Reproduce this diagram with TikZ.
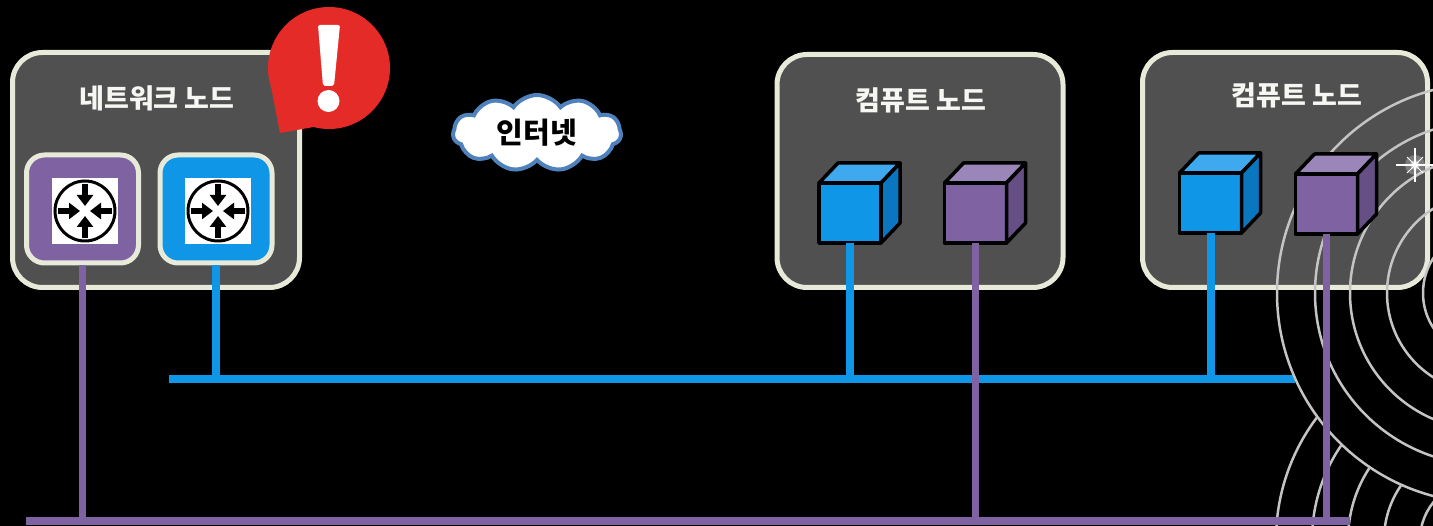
\documentclass[tikz,border=0pt]{standalone}
\usepackage{fontspec}
\newfontfamily\kr{Noto Sans CJK KR}
\usetikzlibrary{shapes.symbols,arrows.meta}

\definecolor{boxgrey}{HTML}{505050}
\definecolor{boxedge}{HTML}{E8EAD9}
\definecolor{titlewhite}{HTML}{F6F6F2}
\definecolor{netblue}{HTML}{0F96E6}
\definecolor{bluetop}{HTML}{3FA9F0}
\definecolor{blueside}{HTML}{0A76BF}
\definecolor{netpurple}{HTML}{7E62A1}
\definecolor{purpletop}{HTML}{9B86B9}
\definecolor{purpleside}{HTML}{664F85}
\definecolor{alertred}{HTML}{E52B28}
\definecolor{cloudedge}{HTML}{4F81BD}
\definecolor{ringgrey}{HTML}{C4C4C4}

\begin{document}
\begin{tikzpicture}[x=1pt,y=-1pt]
        \tikzstyle{nodebox}=[rectangle,rounded corners=30pt,draw=boxedge,line width=5pt,fill=boxgrey,inner sep=0pt]
        \tikzstyle{routerbox}=[rectangle,rounded corners=18pt,draw=boxedge,line width=5pt,minimum width=112pt,minimum height=108pt]
        \tikzstyle{icon}=[rectangle,fill=white,minimum size=66pt,inner sep=0pt]
        \tikzstyle{cubefront}=[rectangle,draw=black,line width=3.5pt,line join=round,minimum width=62pt,minimum height=60pt,inner sep=0pt,outer sep=0pt]
        \tikzstyle{cubeedge}=[draw=black,line width=3.5pt,line join=round]
        \tikzstyle{boxtitle}=[text=titlewhite,font=\kr\bfseries\fontsize{27}{32}\selectfont]
        \tikzstyle{blueline}=[draw=netblue,line width=8pt]
        \tikzstyle{purpleline}=[draw=netpurple,line width=7.5pt]
        \tikzstyle{ring}=[draw=ringgrey,line width=2.5pt]
        \tikzstyle{arrowin}=[line width=6pt,-{Triangle[length=11pt,width=16pt]}]

        \fill[black] (0,0) rectangle (1433,526);
        \useasboundingbox (0,0) rectangle (1433,526);

        \coordinate (blw) at (169,379);
        \coordinate (ble) at (1295,379);
        \coordinate (plw) at (26,521);
        \coordinate (ple) at (1350,521);

        \draw[blueline] (blw) -- (ble);

        % rings in the lower right corner
        \begin{scope}
          \clip (0,0) rectangle (1433,526);
          \foreach \r in {60,96,132,168,204}
            \draw[ring] (1480,540) circle (\r pt);
          \fill[black] (1487,293) circle (211pt);
        \end{scope}

        \node[nodebox,minimum width=287pt,minimum height=235pt] (net) at (156,170) {};
        \node[nodebox,minimum width=286pt,minimum height=233pt] (comp1) at (920,171) {};
        \node[nodebox,minimum width=285pt,minimum height=235pt] (comp2) at (1285,170) {};

        \begin{scope}
          \clip (0,0) rectangle (1433,526);
          \foreach \r in {64,100,137,172,210}
            \draw[ring] (1487,293) circle (\r pt);
        \end{scope}

        % sparkle
        \fill[white,opacity=.25] (1415,165) circle (10pt);
        \fill[white,opacity=.4] (1415,165) circle (5pt);
        \draw[white,line width=1.2pt] (1396,165) -- (1433,165);
        \draw[white,line width=1.2pt] (1415,148) -- (1415,182);
        \draw[white,line width=.8pt] (1407,157) -- (1423,173);
        \draw[white,line width=.8pt] (1407,173) -- (1423,157);
        \fill[white] (1415,165) circle (3pt);

        % routers
        \node[routerbox,fill=netpurple] (rtp) at (82.5,209) {};
        \node[routerbox,fill=netblue] (rtb) at (216,209) {};
        \node[icon] (iconp) at (85,211) {};
        \node[icon] (iconb) at (218,211) {};
        \foreach \i in {iconp,iconb} {
          \draw[black,line width=3pt] (\i.center) circle (30pt);
          \foreach \a in {0,90,180,270}
            \draw[arrowin] (\i.center) ++(\a:27pt) -- ++(\a+180:22pt);
        }

        % cubes
        \node[cubefront,fill=netblue] (cb1) at (850,213) {};
        \node[cubefront,fill=netpurple] (cp1) at (975.5,213) {};
        \node[cubefront,fill=netblue] (cb2) at (1210.5,203) {};
        \node[cubefront,fill=netpurple] (cp2) at (1326.5,204) {};
        \foreach \c/\tp/\sd in {cb1/bluetop/blueside,cp1/purpletop/purpleside,cb2/bluetop/blueside,cp2/purpletop/purpleside} {
          \draw[cubeedge,fill=\tp] (\c.north west) -- ++(19,-20) -- ([shift={(19,-20)}]\c.north east) -- (\c.north east) -- cycle;
          \draw[cubeedge,fill=\sd] (\c.north east) -- ([shift={(19,-20)}]\c.north east) -- ([shift={(19,-20)}]\c.south east) -- (\c.south east) -- cycle;
        }

        % links
        \draw[blueline] (rtb.south) -- (rtb.south |- blw);
        \draw[blueline] (cb1.south) -- (cb1.south |- blw);
        \draw[blueline] (cb2.south) -- (cb2.south |- blw);
        \draw[purpleline] (plw) -- (ple);
        \draw[purpleline] (rtp.south) -- (rtp.south |- plw);
        \draw[purpleline] (cp1.south) -- (cp1.south |- plw);
        \draw[purpleline] (cp2.south) -- (cp2.south |- plw);

        \node[boxtitle] (nettitle) at (157,98) {네트워크 노드};
        \node[boxtitle] (comp1title) at (921,100) {컴퓨트 노드};
        \node[boxtitle] (comp2title) at (1297,95) {컴퓨트 노드};

        \node[cloud,cloud puffs=11,cloud puff arc=110,aspect=2.4,draw=cloudedge,line width=4pt,fill=white,minimum width=168pt,minimum height=76pt,inner sep=0pt,font=\kr\bfseries\fontsize{29}{32}\selectfont] (inet) at (537,133) {인터넷};

        % warning bubble
        \coordinate (tip) at (280,133);
        \node[circle,fill=alertred,minimum size=122pt,inner sep=0pt] (alert) at (329,68) {};
        \fill[alertred] (alert.200) -- (tip) -- (alert.255) -- (alert.center) -- cycle;
        \fill[white,rounded corners=2pt] (318,25) -- (340,25) -- (334,86) -- (323,86) -- cycle;
        \fill[white] (328.5,101) circle (11pt);
\end{tikzpicture}
\end{document}
